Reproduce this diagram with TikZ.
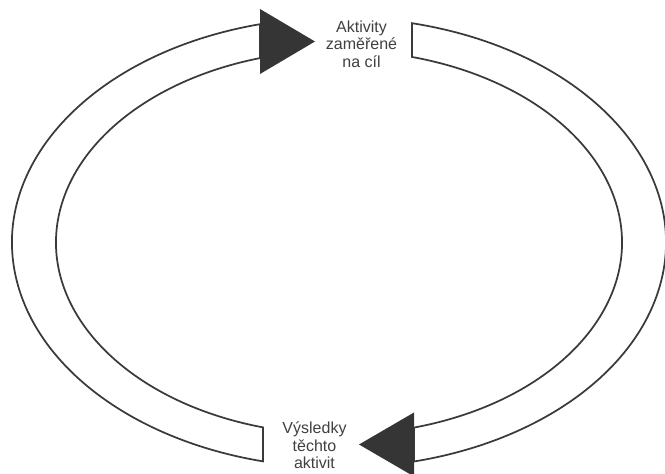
\documentclass[tikz,border=0pt]{standalone}
\usepackage{fontspec}
\setmainfont{Liberation Sans}
\definecolor{linegray}{HTML}{3A3A3A}
\definecolor{headgray}{HTML}{353535}
\definecolor{textgray}{HTML}{404040}

\begin{document}
\begin{tikzpicture}[x=0.75pt,y=0.75pt,
    band/.style={draw=linegray,line width=1.3pt,fill=white,line join=miter},
    head/.style={fill=headgray,draw=none},
    cyclelabel/.style={align=center,inner sep=0pt,text=textgray,
      font=\fontsize{12}{13.2}\selectfont}]
  \useasboundingbox (0,0) rectangle (665,474);
  % left band, up to the goal activities
  \draw [band] (260,449.8) arc (103.98:256.56:327 and 225) -- (263,46.6)
    arc (254.42:106.21:283 and 192) -- cycle;
  \fill [head] (260,465) -- (315,432.5) -- (260,400) -- cycle;
  % right band, down to the results
  \draw [band] (412,450.8) arc (77.10:-76.74:327 and 225) -- (414,46.4)
    arc (-74.63:75.05:283 and 192) -- cycle;
  \fill [head] (414,61.5) -- (359,29.5) -- (414,-2.5) -- cycle;
  % labels
  \node [cyclelabel] (aims) at (361.5,430) {Aktivity\\zaměřené\\na cíl};
  \node [cyclelabel] (results) at (314.5,28.5) {Výsledky\\těchto\\aktivit};
\end{tikzpicture}
\end{document}
